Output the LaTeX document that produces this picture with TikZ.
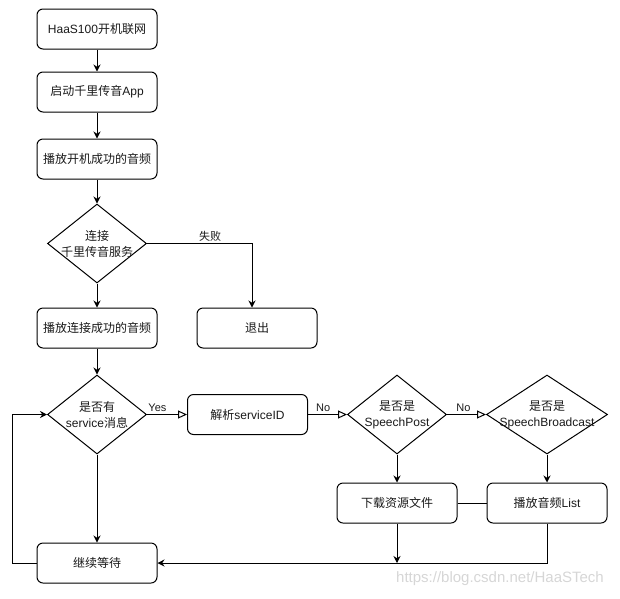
\documentclass[tikz,border=0pt]{standalone}
\usepackage{fontspec}
\setmainfont{Liberation Sans}
\newfontfamily\cjkfont{Noto Sans CJK SC}
\XeTeXinterchartokenstate=1
\newXeTeXintercharclass\CJKclass
\count255="4E00
\loop\XeTeXcharclass\count255=\CJKclass\advance\count255 by 1 \ifnum\count255<"A000\repeat
\XeTeXinterchartoks 0 \CJKclass={\cjkfont}
\XeTeXinterchartoks 4095 \CJKclass={\cjkfont}
\XeTeXinterchartoks \CJKclass 0={\rmfamily}
\XeTeXinterchartoks 4095 0={\rmfamily}
\usetikzlibrary{arrows.meta, shapes.geometric}
\definecolor{flowLine}{HTML}{000000}
\definecolor{flowText}{HTML}{1A1A1A}
\definecolor{flowMark}{HTML}{D6D6D6}
\tikzset{
  flowfig/.style={
    x=1pt, y=-1pt,
    every node/.append style={font=\fontsize{12}{16}\selectfont, text=flowText},
    >={Stealth[length=7pt, width=7pt]},
  },
  stepbox/.style={
    draw=flowLine, line width=1pt, fill=white, rounded corners=6pt,
    align=center, minimum width=120pt, minimum height=40pt, inner sep=2pt,
  },
  % Raute: negatives inner sep, damit nur minimum width/height die Groesse festlegen.
  decision/.style={
    diamond, draw=flowLine, line width=1pt, fill=white, align=center,
    inner sep=-16pt, minimum width=99pt, minimum height=79pt,
  },
  widedecision/.style={decision, minimum width=121pt},
  flow/.style={draw=flowLine, line width=1pt, ->},
  branch/.style={draw=flowLine, line width=1pt, -{Triangle[open, length=9pt, width=8pt]}},
  link/.style={draw=flowLine, line width=1pt},
  edgelabel/.style={font=\fontsize{11}{13}\selectfont, inner sep=2pt},
  watermark/.style={font=\fontsize{15}{18}\selectfont, text=flowMark},
}
\begin{document}
\begin{tikzpicture}[flowfig]
  \useasboundingbox (0,0) rectangle (620,598);
  \node[stepbox] (NetJoin) at (97,29) {HaaS100开机联网};
  \node[stepbox] (StartApp) at (97,92) {启动千里传音App};
  \node[stepbox] (PlayBoot) at (97,159) {播放开机成功的音频};
  \node[decision] (ConnectSvc) at (97,243.5) {连接\\千里传音服务};
  \node[stepbox] (Quit) at (257,328) {退出};
  \node[stepbox] (PlayConnected) at (97,328) {播放连接成功的音频};
  \node[decision] (HasService) at (97,414.5) {是否有\\service消息};
  \node[stepbox] (ParseID) at (247.5,414.5) {解析serviceID};
  \node[decision] (IsPost) at (397,414.5) {是否是\\SpeechPost};
  \node[widedecision] (IsBroadcast) at (547,414.5) {是否是\\SpeechBroadcast};
  \node[stepbox] (Download) at (397,503) {下载资源文件};
  \node[stepbox] (PlayList) at (547,503) {播放音频List};
  \node[stepbox] (KeepWaiting) at (97,563) {继续等待};
  \node[watermark] (Mark) at (500,579) {https://blog.csdn.net/HaaSTech};
  \draw[flow] (NetJoin) -- (StartApp);
  \draw[flow] (StartApp) -- (PlayBoot);
  \draw[flow] (PlayBoot) -- (ConnectSvc);
  \draw[flow] (ConnectSvc) -- (PlayConnected);
  \draw[flow] (ConnectSvc.east) -| node[edgelabel, pos=0.3, above] {失败} ([xshift=-5pt]Quit.north);
  \draw[flow] (PlayConnected) -- (HasService);
  \draw[branch] (HasService) -- node[edgelabel, pos=0.26, above] {Yes} (ParseID);
  \draw[branch] (ParseID) -- node[edgelabel, pos=0.39, above] {No} (IsPost);
  \draw[branch] (IsPost) -- node[edgelabel, pos=0.42, above] {No} (IsBroadcast);
  \draw[flow] (IsPost) -- (Download);
  \draw[flow] (IsBroadcast) -- (PlayList);
  \draw[link] (Download) -- (PlayList);
  \draw[flow] (HasService) -- (KeepWaiting);
  \draw[flow] (Download.south) -- (Download.south |- KeepWaiting.east);
  \draw[flow] (PlayList.south) |- (KeepWaiting.east);
  \draw[flow] (KeepWaiting.west) -- ++(-24,0) |- (HasService.west);
\end{tikzpicture}
\end{document}
